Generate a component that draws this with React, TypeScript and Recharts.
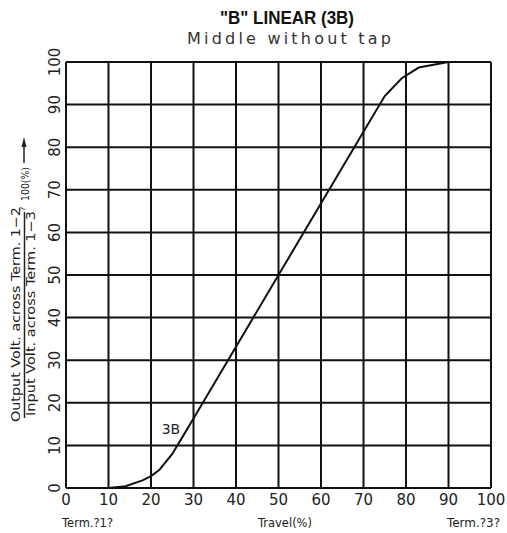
import React from "react";
import { LineChart, Line, XAxis, YAxis, CartesianGrid, ReferenceDot } from "recharts";

const travel = [10, 14, 18, 20, 22, 25, 27, 30, 50, 70, 75, 79, 83, 90, 100];
const output = [0, 0.4, 1.8, 2.8, 4.3, 8, 11.3, 16.3, 50, 83.6, 92, 96.2, 98.7, 100, 100];
const ticks = [0, 10, 20, 30, 40, 50, 60, 70, 80, 90, 100];
const curveLabel = "3B";
const curveLabelPos = { x: 24.7, y: 13.8 };

const data = travel.map((t, i) => ({ travel: t, output: output[i] }));

const XTick = (props: any) => {
  const { x, payload } = props;
  return (
    <text x={x} y={505} textAnchor="middle" fontFamily="DejaVu Sans" fontSize={15} fill="#222">
      {payload.value}
    </text>
  );
};

const YTick = (props: any) => {
  const { y, payload } = props;
  return (
    <text
      x={60}
      y={y}
      transform={`rotate(-90, 60, ${y})`}
      textAnchor="middle"
      fontFamily="DejaVu Sans"
      fontSize={15}
      fill="#222"
    >
      {payload.value}
    </text>
  );
};

export default function App() {
  return (
    <div style={{ position: "absolute", left: 0, top: 0, width: 507, height: 533, background: "#fff" }}>
      <LineChart
        width={507}
        height={533}
        data={data}
        margin={{ top: 62, right: 16, bottom: 0, left: 0 }}
      >
        <CartesianGrid stroke="#111" strokeWidth={2} />
        <XAxis
          dataKey="travel"
          type="number"
          domain={[0, 100]}
          ticks={ticks}
          interval={0}
          height={45}
          axisLine={false}
          tickLine={false}
          tick={<XTick />}
        />
        <YAxis
          type="number"
          domain={[0, 100]}
          ticks={ticks}
          interval={0}
          width={66}
          axisLine={false}
          tickLine={false}
          tick={<YTick />}
        />
        <Line
          dataKey="output"
          type="linear"
          stroke="#111"
          strokeWidth={2}
          dot={false}
          isAnimationActive={false}
        />
        <ReferenceDot
          x={curveLabelPos.x}
          y={curveLabelPos.y}
          r={1}
          fill="none"
          stroke="none"
          label={{ value: curveLabel, position: "center", fontFamily: "DejaVu Sans", fontSize: 14, fill: "#222" }}
        />
      </LineChart>
      <svg
        width={507}
        height={533}
        style={{ position: "absolute", left: 0, top: 0, pointerEvents: "none" }}
      >
        <text x={287} y={24} textAnchor="middle" fontFamily="Liberation Sans" fontWeight="bold" fontSize={18} fill="#111" textLength={134} lengthAdjust="spacingAndGlyphs">
          "B" LINEAR (3B)
        </text>
        <text x={289} y={44} textAnchor="middle" fontFamily="DejaVu Sans" fontSize={16} fill="#333" textLength={204} lengthAdjust="spacing">
          Middle without tap
        </text>
        <text x={62} y={527} fontFamily="DejaVu Sans" fontSize={11.5} fill="#222" textLength={51} lengthAdjust="spacingAndGlyphs">
          Term.?1?
        </text>
        <text x={285} y={527} textAnchor="middle" fontFamily="DejaVu Sans" fontSize={11.5} fill="#222" textLength={54} lengthAdjust="spacingAndGlyphs">
          Travel(%)
        </text>
        <text x={447} y={527} fontFamily="DejaVu Sans" fontSize={11.5} fill="#222" textLength={53} lengthAdjust="spacingAndGlyphs">
          Term.?3?
        </text>
        <text x={20} y={422} transform="rotate(-90, 20, 422)" fontFamily="DejaVu Sans" fontSize={12.5} fill="#222" textLength={215} lengthAdjust="spacingAndGlyphs">
          Output Volt. across Term. 1−2
        </text>
        <text x={35} y={416} transform="rotate(-90, 35, 416)" fontFamily="DejaVu Sans" fontSize={12.5} fill="#222" textLength={205} lengthAdjust="spacingAndGlyphs">
          Input Volt. across Term. 1−3
        </text>
        <line x1={24.5} y1={418} x2={24.5} y2={212} stroke="#222" strokeWidth={1.5} />
        <text x={26} y={211} transform="rotate(-90, 26, 211)" fontFamily="DejaVu Sans" fontSize={8} fill="#222">
          ?
        </text>
        <text x={29} y={201} transform="rotate(-90, 29, 201)" fontFamily="DejaVu Sans" fontSize={11} fill="#222" textLength={34} lengthAdjust="spacingAndGlyphs">
          100(%)
        </text>
        <line x1={24} y1={163} x2={24} y2={145} stroke="#222" strokeWidth={1.5} />
        <polygon points="24,137 21.5,147 26.5,147" fill="#222" />
      </svg>
    </div>
  );
}
